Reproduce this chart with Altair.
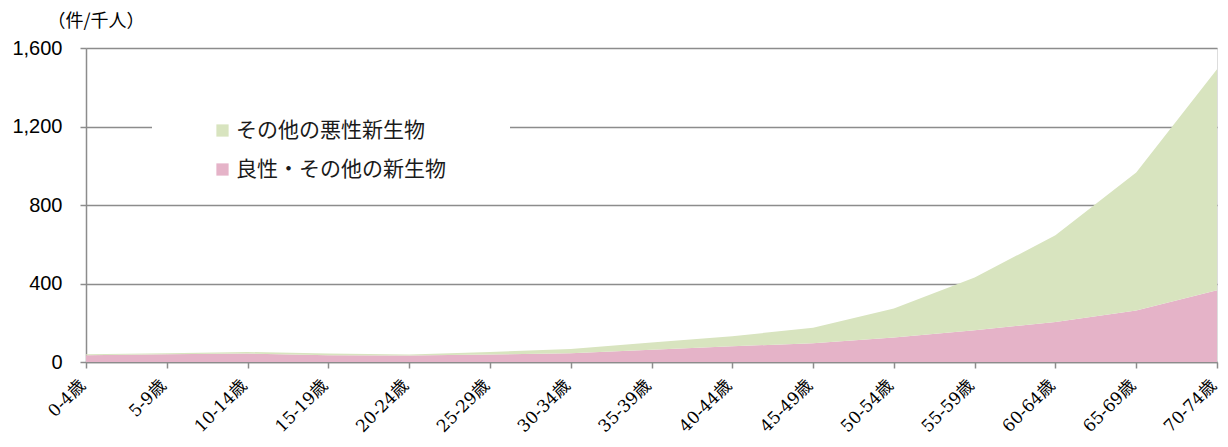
import altair as alt
import pandas as pd

ages = ["0-4歳", "5-9歳", "10-14歳", "15-19歳", "20-24歳", "25-29歳", "30-34歳",
        "35-39歳", "40-44歳", "45-49歳", "50-54歳", "55-59歳", "60-64歳", "65-69歳", "70-74歳"]
malignant = [5, 6, 8, 8, 5, 13, 21, 36, 51, 79, 148, 268, 442, 704, 1126]
benign = [35, 39, 43, 35, 33, 38, 45, 63, 80, 96, 125, 162, 204, 262, 366]
series = ["その他の悪性新生物", "良性・その他の新生物"]
colors = ["#d8e4bf", "#e5b3c8"]
y_ticks = [0, 400, 800, 1200, 1600]

rows = []
for a, m, b in zip(ages, malignant, benign):
    rows.append({"age": a, "series": series[1], "value": b, "ord": 0})
    rows.append({"age": a, "series": series[0], "value": m, "ord": 1})
df = pd.DataFrame(rows)

axis_gray = "#8c8c8c"

area = alt.Chart(df).mark_area(opacity=1).encode(
    x=alt.X("age:N", sort=ages, scale=alt.Scale(type="point", padding=0),
            axis=alt.Axis(title=None, labelAngle=-45, labelAlign="right", labelBaseline="alphabetic",
                          labelFont="DejaVu Serif, Noto Sans CJK JP", labelFontSize=17,
                          labelColor="#000000", labelPadding=18,
                          domainColor=axis_gray, domainWidth=1.5, tickColor=axis_gray,
                          tickWidth=1.5, tickSize=6, grid=False)),
    y=alt.Y("value:Q", stack="zero",
            scale=alt.Scale(domain=[0, 1600], nice=False),
            axis=alt.Axis(values=y_ticks, format=",d", title="（件/千人）", titleAngle=0,
                          titleAlign="left", titleBaseline="middle", titleX=-39, titleY=-27,
                          titleFont="Noto Sans CJK JP", titleFontWeight="normal",
                          titleFontSize=18, titleColor="#000000",
                          labelFont="Liberation Sans", labelFontSize=20, labelColor="#000000",
                          labelPadding=18, domainColor=axis_gray, domainWidth=1.5,
                          tickColor=axis_gray, tickWidth=1.5, tickSize=6,
                          gridColor=axis_gray, gridWidth=1.5)),
    color=alt.Color("series:N", scale=alt.Scale(domain=series, range=colors),
                    legend=alt.Legend(title=None, orient="none", legendX=126, legendY=72,
                                      symbolType="square", symbolSize=150, symbolStrokeWidth=0,
                                      labelFont="Noto Sans CJK JP", labelFontSize=21,
                                      labelColor="#1a1a1a", labelOffset=3, rowPadding=17,
                                      labelLimit=400, padding=0)),
    order=alt.Order("ord:Q", sort="ascending"),
)

mask = alt.Chart(pd.DataFrame({"k": [0]})).mark_rect(color="white").encode(
    x=alt.value(66), x2=alt.value(424), y=alt.value(70), y2=alt.value(90)
)

chart = alt.layer(mask, area).properties(
    width=1131, height=314,
    autosize=alt.AutoSizeParams(type="none"),
    padding={"left": 78, "top": 40, "right": 3, "bottom": 77},
).configure_view(stroke=None).configure(background="white")

chart.save("out.html", embed_options={"renderer": "svg", "actions": False})
